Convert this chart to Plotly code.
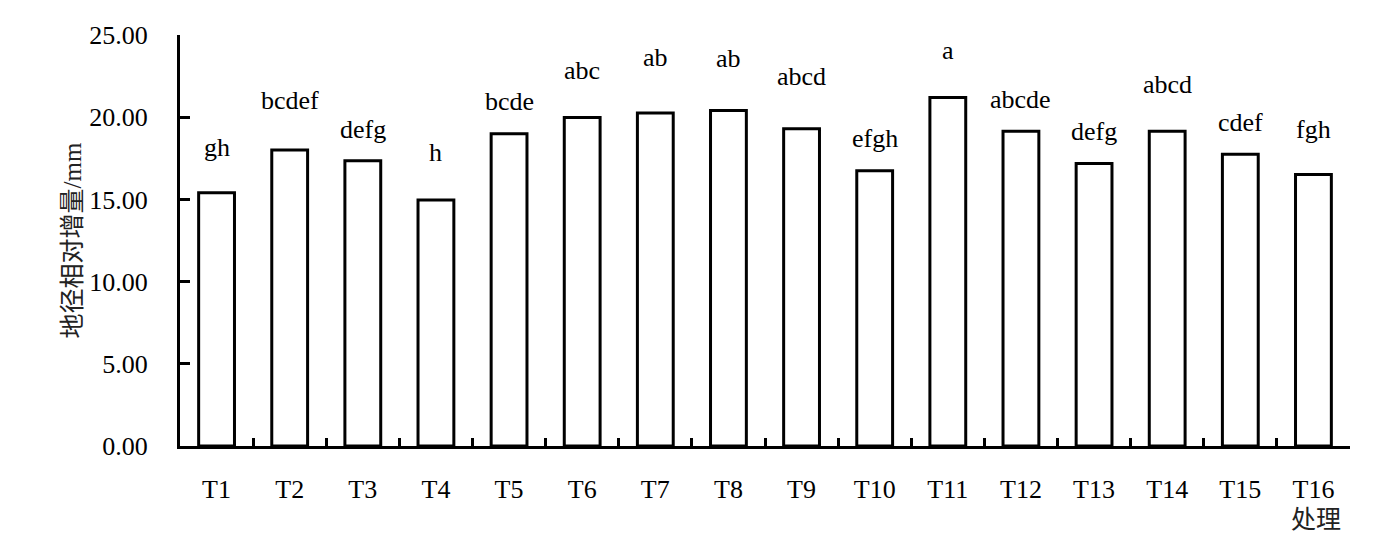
import plotly.graph_objects as go

treatments = ["T%d" % i for i in range(1, 17)]
growth = [15.4, 18.0, 17.35, 14.97, 19.0, 19.98, 20.25, 20.4,
          19.3, 16.75, 21.2, 19.15, 17.18, 19.15, 17.75, 16.52]
# hidden error bars, the letters sit on top of them
sd = [1.61, 1.89, 0.76, 1.75, 0.83, 1.74, 2.28, 2.07,
      2.05, 0.85, 1.73, 0.78, 0.82, 1.69, 0.80, 1.59]
letters = ["gh", "bcdef", "defg", "h", "bcde", "abc", "ab", "ab",
           "abcd", "efgh", "a", "abcde", "defg", "abcd", "cdef", "fgh"]

font_family = "'Liberation Serif', 'Times New Roman', 'Noto Sans CJK SC', serif"

fig = go.Figure()
fig.add_trace(go.Bar(
    x=treatments,
    y=growth,
    marker=dict(color="white", line=dict(color="black", width=3)),
    showlegend=False))

for t, v, s, lab in zip(treatments, growth, sd, letters):
    fig.add_annotation(
        x=t, y=v + s, text=lab, showarrow=False,
        yanchor="bottom", yshift=2,
        font=dict(family=font_family, size=26, color="black"))

# axis titles placed by hand
fig.add_annotation(
    xref="paper", yref="paper", x=-0.0923, y=0.5,
    xanchor="center", yanchor="middle",
    text="地径相对增量/mm", textangle=-90, showarrow=False,
    font=dict(family=font_family, size=25, color="#222"))
fig.add_annotation(
    xref="paper", yref="paper", x=0.971, y=-0.18,
    xanchor="center", yanchor="middle",
    text="处理", showarrow=False,
    font=dict(family=font_family, size=25, color="#222"))

# page body has an 8px margin, so shrink the figure by that
fig.update_layout(
    width=1376, height=541,
    margin=dict(l=172, r=34, t=27, b=103),
    plot_bgcolor="white", paper_bgcolor="white",
    bargap=0.51,
    font=dict(family=font_family, size=26, color="black"))
fig.update_xaxes(
    showline=True, linecolor="black", linewidth=3,
    ticks="inside", tickson="boundaries", ticklen=8, tickwidth=3,
    tickcolor="black", showgrid=False, ticklabelstandoff=18)
fig.update_yaxes(
    range=[0, 25], dtick=5, tickformat=".2f",
    showline=True, linecolor="black", linewidth=3,
    ticks="inside", ticklen=10, tickwidth=3, tickcolor="black",
    showgrid=False, zeroline=False, ticklabelstandoff=24)

fig.write_html("out.html")
